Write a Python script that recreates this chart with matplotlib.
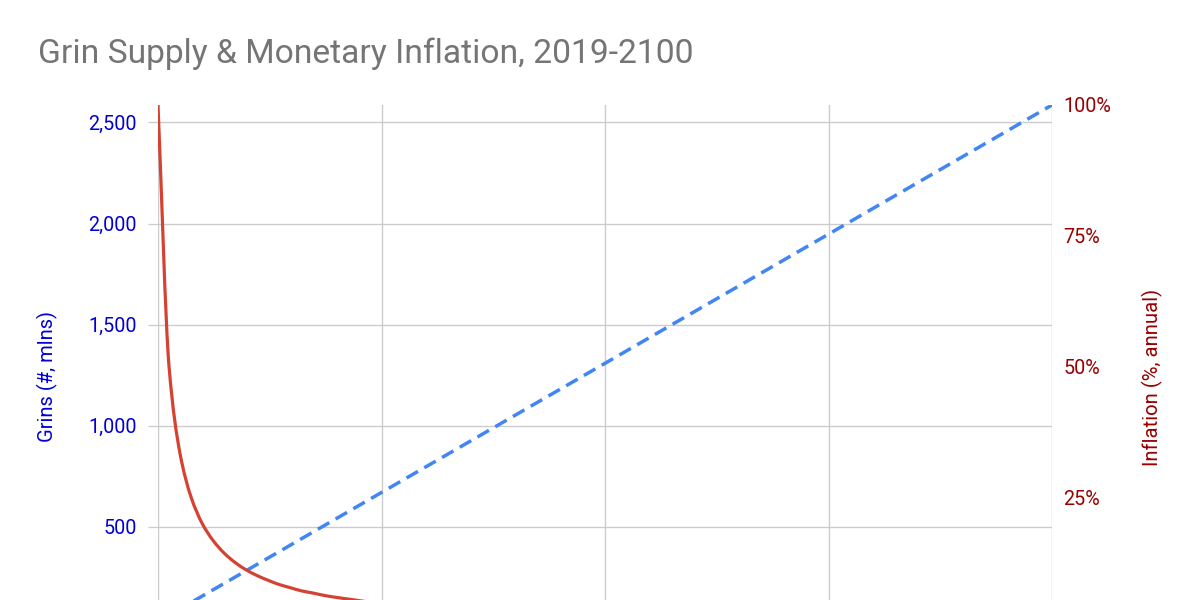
import matplotlib
matplotlib.use("Agg")
import matplotlib.pyplot as plt
from matplotlib.path import Path
from matplotlib.patches import PathPatch

# ---- data ----
supply_years = [2019, 2030, 2040, 2050, 2060, 2070, 2080, 2090, 2100]
supply_mlns = [31.5, 378.4, 693.8, 1009.2, 1324.5, 1639.9, 1955.2, 2270.6, 2586.0]

inflation_years = [2019, 2020, 2021, 2022, 2023, 2024, 2025, 2026, 2027, 2028,
                   2029, 2030, 2031, 2032, 2033, 2034, 2035, 2036, 2037, 2038,
                   2039, 2040, 2041, 2042, 2043, 2044, 2045, 2050, 2060, 2070,
                   2080, 2090, 2100]
inflation_pct = [100.0, 50.0, 33.3, 25.0, 20.0, 16.7, 14.3, 12.5, 11.1, 10.0,
                 9.1, 8.3, 7.7, 7.1, 6.7, 6.25, 5.9, 5.6, 5.3, 5.0,
                 4.8, 4.5, 4.3, 4.2, 4.0, 3.8, 3.7, 3.1, 2.4, 1.9,
                 1.6, 1.4, 1.2]

left_ticks = [500, 1000, 1500, 2000, 2500]
left_labels = ["500", "1,000", "1,500", "2,000", "2,500"]
right_ticks = [25, 50, 75, 100]
right_labels = ["25%", "50%", "75%", "100%"]
x_grid = [2019, 2039.25, 2059.5, 2079.75, 2100]

title = "Grin Supply & Monetary Inflation, 2019-2100"
left_label = "Grins (#, mlns)"
right_label = "Inflation (%, annual)"

BLUE_LINE = "#4285F4"
RED_LINE = "#D64232"
LEFT_TXT = "#0000D4"
RIGHT_TXT = "#990000"
GRID = "#CCCCCC"
TITLE_C = "#757575"

plt.rcParams["font.family"] = ["Roboto", "DejaVu Sans"]


def smooth_path(xs, ys):
    """Monotone cubic (Fritsch-Butland) curve through the points, as Bezier path."""
    n = len(xs)
    h = [xs[i + 1] - xs[i] for i in range(n - 1)]
    d = [(ys[i + 1] - ys[i]) / h[i] for i in range(n - 1)]
    m = [0.0] * n
    m[0], m[-1] = d[0], d[-1]
    for i in range(1, n - 1):
        if d[i - 1] * d[i] <= 0:
            m[i] = 0.0
        else:
            h0, h1 = h[i - 1], h[i]
            m[i] = 3 * (h0 + h1) / ((2 * h1 + h0) / d[i - 1] + (h1 + 2 * h0) / d[i])
    verts = [(xs[0], ys[0])]
    codes = [Path.MOVETO]
    for i in range(n - 1):
        t = h[i] / 3.0
        verts += [(xs[i] + t, ys[i] + m[i] * t),
                  (xs[i + 1] - t, ys[i + 1] - m[i + 1] * t),
                  (xs[i + 1], ys[i + 1])]
        codes += [Path.CURVE4] * 3
    return Path(verts, codes)


W, H = 1200, 600
fig = plt.figure(figsize=(12, 6), dpi=100)
x0, x1 = 158, 1052
y_top, y_bot = 105, 628
ax = fig.add_axes([x0 / W, 1 - y_bot / H, (x1 - x0) / W, (y_bot - y_top) / H])

ax.plot(supply_years, supply_mlns, color=BLUE_LINE, lw=2.5,
        dashes=(3.8, 2.1), solid_capstyle="butt", dash_capstyle="butt", zorder=3)
ax.set_xlim(2019, 2100)
ax.set_ylim(0, 2586.0)
ax.set_xticks(x_grid)
ax.set_xticklabels([])
ax.tick_params(axis="x", length=0)
ax.set_yticks(left_ticks)
ax.set_yticklabels(left_labels, color=LEFT_TXT, fontsize=14.2)
ax.tick_params(axis="y", length=7.2, width=0.9, color=GRID, pad=8)
ax.grid(True, color=GRID, lw=1.0)
ax.set_axisbelow(True)
for s in ax.spines.values():
    s.set_visible(False)

ax2 = ax.twinx()
ax2.add_patch(PathPatch(smooth_path(inflation_years, inflation_pct), fill=False,
                        edgecolor=RED_LINE, lw=2.3, zorder=3, capstyle="butt"))
ax2.set_xlim(2019, 2100)
ax2.set_ylim(0, 100)
ax2.set_yticks(right_ticks)
ax2.set_yticklabels(right_labels, color=RIGHT_TXT, fontsize=14.2)
ax2.tick_params(axis="y", length=0, pad=8)
for s in ax2.spines.values():
    s.set_visible(False)

fig.text(38 / W, 1 - 63 / H, title, fontsize=24.2, color=TITLE_C,
         ha="left", va="baseline")
fig.text(47 / W, 1 - 377 / H, left_label, rotation=90, fontsize=14.5,
         color=LEFT_TXT, ha="center", va="center")
fig.text(1152 / W, 1 - 377 / H, right_label, rotation=90, fontsize=14.6,
         color=RIGHT_TXT, ha="center", va="center")

fig.savefig("out.png", dpi=100)
